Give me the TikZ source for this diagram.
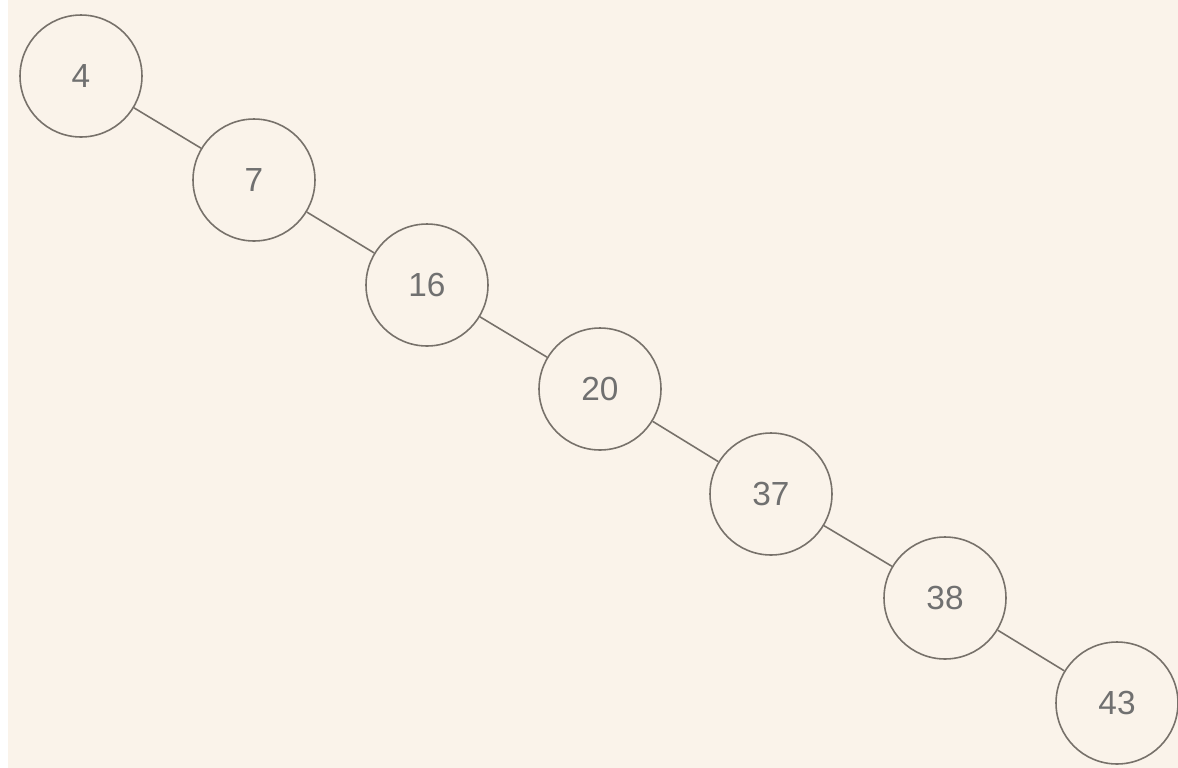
\documentclass[tikz,border=0pt]{standalone}
\usepackage{fontspec}
\setmainfont{Liberation Sans}
\usepackage{xcolor}
\usetikzlibrary{positioning}
\definecolor{paper}{HTML}{FAF3EA}
\definecolor{ring}{HTML}{77716A}
\definecolor{digit}{HTML}{707070}

\begin{document}
\begin{tikzpicture}[x=0.02cm, y=-0.02cm,
  key/.style={draw=ring, circle, line width=0.9pt, minimum size=2.44cm, inner sep=0pt,
    text=digit, font=\fontsize{19}{19}\selectfont},
  link/.style={draw=ring, line width=0.9pt}]
\fill[white] (0,0) rectangle (1178,768);
\fill[paper] (8,0) rectangle (1178,768);
\useasboundingbox (0,0) rectangle (1178,768);
\node[key] (k4) at (81,76) {4};
\node[key] (k7) at (254,180) {7};
\node[key] (k16) at (427,285) {16};
\node[key] (k20) at (600,389) {20};
\node[key] (k37) at (771,494) {37};
\node[key] (k38) at (945,598) {38};
\node[key] (k43) at (1117,703) {43};
\draw[link] (k4) -- (k7); \draw[link] (k7) -- (k16); \draw[link] (k16) -- (k20);
\draw[link] (k20) -- (k37); \draw[link] (k37) -- (k38); \draw[link] (k38) -- (k43);
\end{tikzpicture}
\end{document}
